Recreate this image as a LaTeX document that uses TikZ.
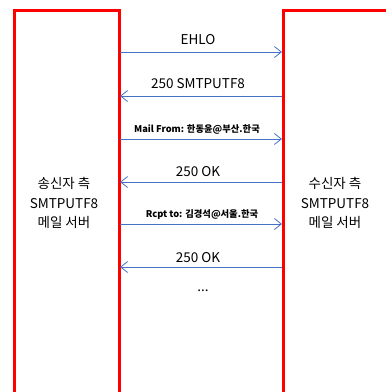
\documentclass[tikz,border=0pt]{standalone}
\usepackage{fontspec}
\setmainfont{Noto Sans CJK KR}
\usetikzlibrary{arrows.meta}
\definecolor{boxred}{RGB}{255,0,0}
\definecolor{msgblue}{RGB}{68,114,196}
\tikzset{
  x=1pt, y=-1pt,
  server/.style={draw=boxred, line width=3pt},
  msg/.style={draw=msgblue, line width=0.8pt, -{Straight Barb[length=7pt,width=11pt,line width=0.8pt]}},
  lbl/.style={font=\fontsize{13.5}{15}\selectfont, inner sep=0pt, anchor=base},
  blbl/.style={font=\fontsize{9.3}{11}\selectfont\bfseries, inner sep=0pt, anchor=base},
  srvtext/.style={font=\fontsize{13.5}{19.5}\selectfont, align=center, inner sep=0pt}
}
\begin{document}
\begin{tikzpicture}
\useasboundingbox (0,0) rectangle (386,392);
\begin{scope}
\clip (0,0) rectangle (386,392);
\draw[server] (14,400) -- (14,10) -- (119,10) -- (119,400);
\draw[server] (283.5,400) -- (283.5,10) -- (400,10);
\end{scope}
% message end points on the server edges
\foreach \n/\y in {1/52, 2/96, 3/139, 4/182, 5/224, 6/267} {
  \coordinate (L\n) at (120,\y);
  \coordinate (R\n) at (282,\y);
}
\draw[msg] (L1) -- (R1);
\draw[msg] (R2) -- (L2);
\draw[msg] (L3) -- (R3);
\draw[msg] (R4) -- (L4);
\draw[msg] (L5) -- (R5);
\draw[msg] (R6) -- (L6);
\node[lbl] (t1) at (198,44) {EHLO};
\node[lbl] (t2) at (198,88) {250 SMTPUTF8};
\node[blbl] (t3) at (197,132) {Mail From: 한동윤@부산.한국};
\node[lbl] (t4) at (198,176) {250 OK};
\node[blbl] (t5) at (202,217) {Rcpt to: 김경석@서울.한국};
\node[lbl] (t6) at (198,262) {250 OK};
\node[lbl] (t7) at (203,291) {...};
\node[srvtext] (snd) at (64,203) {송신자 측\\SMTPUTF8\\메일 서버};
\node[srvtext] (rcv) at (335,203) {수신자 측\\SMTPUTF8\\메일 서버};
\end{tikzpicture}
\end{document}
